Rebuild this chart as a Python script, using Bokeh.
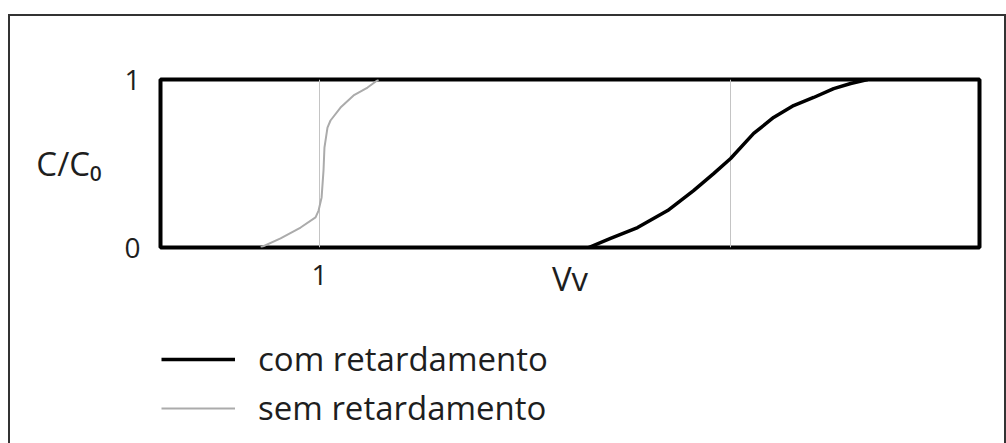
from bokeh.plotting import figure
from bokeh.layouts import column
from bokeh.models import Range1d, FixedTicker, Legend, LegendItem
from bokeh.embed import file_html
from bokeh.resources import INLINE

# ---- data ----
vv_sem = [0.63, 0.755, 0.881, 0.975, 0.994, 1.013, 1.025, 1.031, 1.050, 1.069, 1.132, 1.214, 1.302, 1.371]
c_sem = [0.0, 0.054, 0.119, 0.179, 0.220, 0.298, 0.458, 0.595, 0.714, 0.756, 0.833, 0.905, 0.952, 1.0]
vv_com = [2.692, 2.830, 3.000, 3.189, 3.352, 3.478, 3.585, 3.730, 3.855, 3.981, 4.107, 4.233, 4.340, 4.447]
c_com = [0.0, 0.054, 0.119, 0.220, 0.339, 0.440, 0.530, 0.679, 0.774, 0.845, 0.893, 0.946, 0.976, 1.0]
ref_lines = [1.0, 3.585]
y_ticks = [0, 1]
x_ticks = [1]
labels = ["com retardamento", "sem retardamento"]

FONT = "Open Sans"
TXT = "#1e1e1e"
COM_STYLE = dict(line_color="black", line_width=3.5)
SEM_STYLE = dict(line_color="#ababab", line_width=2)

# ---- main chart ----
p = figure(width=994, height=306, x_range=Range1d(0, 5.15), y_range=Range1d(0, 1),
           output_backend="svg", toolbar_location=None,
           min_border_left=150, min_border_right=25, min_border_top=63, min_border_bottom=75)

p.outline_line_color = "black"
p.outline_line_width = 4
p.outline_line_alpha = 1.0

p.ygrid.visible = False
p.xgrid.ticker = FixedTicker(ticks=ref_lines)
p.xgrid.grid_line_color = "#c4c4c4"
p.xgrid.grid_line_width = 1

for ax in (p.xaxis[0], p.yaxis[0]):
    ax.axis_line_color = None
    ax.major_tick_in = 0
    ax.major_tick_out = 0
    ax.minor_tick_in = 0
    ax.minor_tick_out = 0
    ax.major_label_text_font = FONT
    ax.major_label_text_font_size = "28px"
    ax.major_label_text_color = TXT
    ax.axis_label_text_font = FONT
    ax.axis_label_text_font_size = "33px"
    ax.axis_label_text_font_style = "normal"
    ax.axis_label_text_color = TXT

p.yaxis[0].ticker = FixedTicker(ticks=y_ticks)
p.yaxis[0].major_label_standoff = 20
p.yaxis[0].axis_label = "C/C\u2080"
p.yaxis[0].axis_label_orientation = "horizontal"
p.yaxis[0].axis_label_standoff = 20

p.xaxis[0].ticker = FixedTicker(ticks=x_ticks)
p.xaxis[0].bounds = (0, 4.72)
p.xaxis[0].major_label_standoff = 17
p.xaxis[0].axis_label = "Vv"
p.xaxis[0].axis_label_standoff = -32

p.line(vv_com, c_com, **COM_STYLE)
p.line(vv_sem, c_sem, **SEM_STYLE)

# ---- legend strip below the chart ----
q = figure(width=994, height=121, x_range=Range1d(0, 5.15), y_range=Range1d(10, 11),
           x_axis_type=None, y_axis_type=None, output_backend="svg", toolbar_location=None,
           min_border=0, outline_line_color=None)
q_com = q.line(vv_com, c_com, **COM_STYLE)
q_sem = q.line(vv_sem, c_sem, **SEM_STYLE)

legend = Legend(items=[LegendItem(label=labels[0], renderers=[q_com]),
                       LegendItem(label=labels[1], renderers=[q_sem])],
                location=(1, 13), padding=0, margin=0, spacing=4,
                glyph_width=74, label_standoff=23,
                label_text_font=FONT, label_text_font_size="33px", label_text_color=TXT,
                border_line_color=None, background_fill_alpha=0)
q.add_layout(legend)

layout = column(p, q, spacing=0)
layout.styles = {"margin-top": "14px", "margin-left": "8px",
                 "border-top": "2px solid #333", "border-left": "2px solid #333",
                 "border-right": "2px solid #333"}

open("out.html", "w").write(file_html(layout, INLINE))
